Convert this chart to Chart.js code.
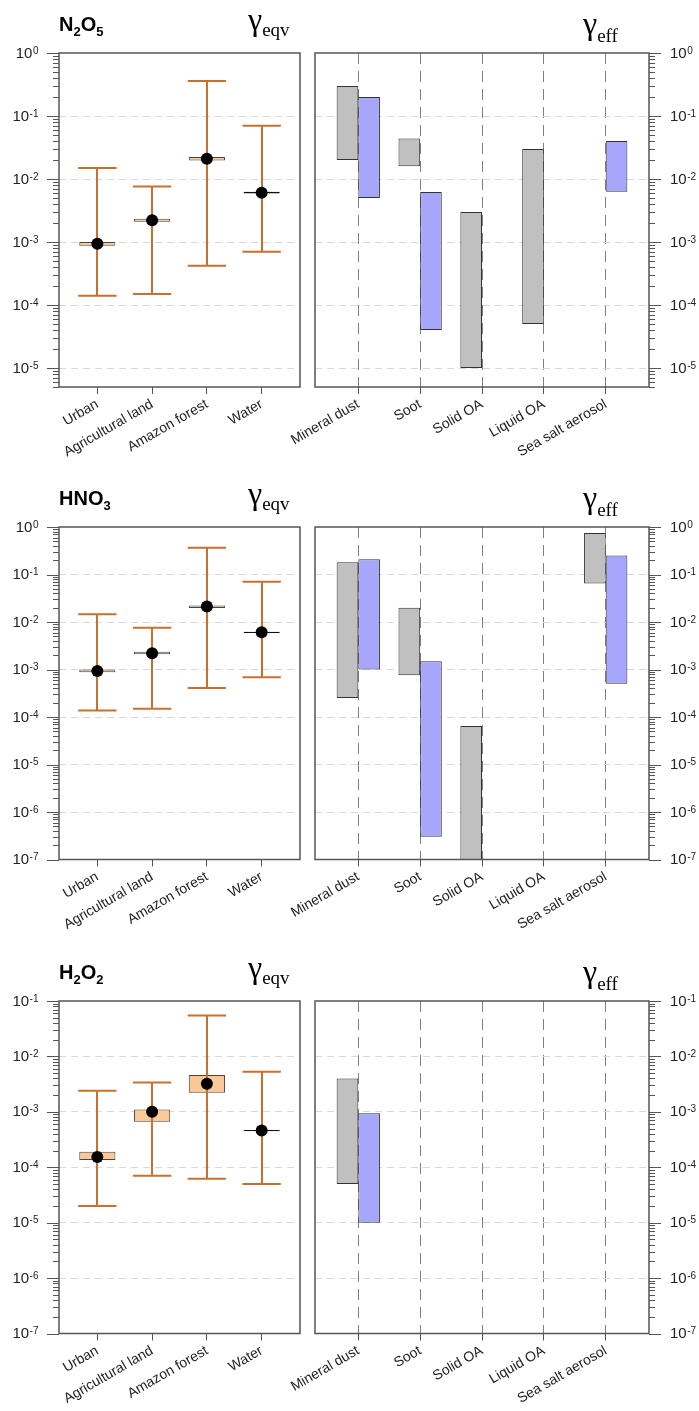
<!DOCTYPE html>
<html>
<head>
<meta charset="utf-8">
<script src="https://cdn.jsdelivr.net/npm/chart.js@4.4.1/dist/chart.umd.min.js"></script>
<style>
html, body { margin: 0; padding: 0; background: #fff; overflow: hidden; }
#wrap { position: relative; width: 699px; height: 1411px; }
canvas { position: absolute; }
</style>
</head>
<body>
<div id="wrap"></div>
<script>
// categories
const envCats = ['Urban', 'Agricultural land', 'Amazon forest', 'Water'];
const aerCats = ['Mineral dust', 'Soot', 'Solid OA', 'Liquid OA', 'Sea salt aerosol'];
const species = ['N2O5', 'HNO3', 'H2O2'];

// gamma_eqv, N2O5
const n2o5Low = [1.4e-4, 1.5e-4, 4.2e-4, 7e-4];
const n2o5High = [1.5e-2, 7.6e-3, 0.36, 0.07];
const n2o5Q1 = [8.7e-4, 2.1e-3, 0.0197, 5.9e-3];
const n2o5Q3 = [1.0e-3, 2.35e-3, 0.0223, 6.25e-3];
const n2o5Med = [9.4e-4, 2.22e-3, 0.021, 6.05e-3];
// gamma_eqv, HNO3
const hno3Low = [1.37e-4, 1.5e-4, 4.1e-4, 6.9e-4];
const hno3High = [1.45e-2, 7.6e-3, 0.365, 0.07];
const hno3Q1 = [8.7e-4, 2.1e-3, 0.0197, 5.9e-3];
const hno3Q3 = [1.0e-3, 2.35e-3, 0.0223, 6.25e-3];
const hno3Med = [9.3e-4, 2.2e-3, 0.0213, 6.1e-3];
// gamma_eqv, H2O2
const h2o2Low = [2e-5, 7e-5, 6.2e-5, 5e-5];
const h2o2High = [2.4e-3, 3.4e-3, 0.055, 5.3e-3];
const h2o2Q1 = [1.35e-4, 6.6e-4, 2.2e-3, 4.45e-4];
const h2o2Q3 = [1.9e-4, 1.1e-3, 4.6e-3, 4.7e-4];
const h2o2Med = [1.53e-4, 1.0e-3, 3.2e-3, 4.6e-4];

// gamma_eff ranges [low, high], grey and blue bars
const n2o5Grey = [[0.02, 0.3], [0.016, 0.044], [1e-5, 3e-3], [5e-5, 0.03], null];
const n2o5Blue = [[0.005, 0.2], [4e-5, 6.2e-3], null, null, [6.3e-3, 0.04]];
const hno3Grey = [[2.5e-4, 0.18], [7.6e-4, 0.02], [1e-8, 6.5e-5], null, [0.065, 0.75]];
const hno3Blue = [[1e-3, 0.21], [3e-7, 1.5e-3], null, null, [5e-4, 0.25]];
const h2o2Grey = [[5e-5, 4e-3], null, null, null, null];
const h2o2Blue = [[1e-5, 9.4e-4], null, null, null, null];

// axis ranges and tick labels (exponents of 10)
const axisMin = [5e-6, 1e-7, 1e-7];
const axisMax = [1, 1, 0.1];
const tickExps = [[0, -1, -2, -3, -4, -5], [0, -1, -2, -3, -4, -5, -6, -7], [-1, -2, -3, -4, -5, -6, -7]];

const eqvLow = [n2o5Low, hno3Low, h2o2Low];
const eqvHigh = [n2o5High, hno3High, h2o2High];
const eqvQ1 = [n2o5Q1, hno3Q1, h2o2Q1];
const eqvQ3 = [n2o5Q3, hno3Q3, h2o2Q3];
const eqvMed = [n2o5Med, hno3Med, h2o2Med];
const effGrey = [n2o5Grey, hno3Grey, h2o2Grey];
const effBlue = [n2o5Blue, hno3Blue, h2o2Blue];

const rowTop = [0, 474, 948];
const plotH = [334, 332.5, 332.5];
const canvasH = 463;
const SANS = '"Liberation Sans", Arial, sans-serif';
const SERIF = '"Liberation Serif", "Times New Roman", serif';

function addCanvas(left, top, w, h) {
    const c = document.createElement('canvas');
    c.width = w; c.height = h;
    c.style.cssText = `left:${left}px;top:${top}px;width:${w}px;height:${h}px`;
    document.getElementById('wrap').appendChild(c);
    return c;
}

function drawChem(ctx, text, x, y) {
    let cx = x;
    for (const ch of text) {
        const sub = /[0-9]/.test(ch);
        ctx.font = sub ? 'bold 13px ' + SANS : 'bold 20px ' + SANS;
        ctx.fillText(ch, cx, sub ? y + 5 : y);
        cx += ctx.measureText(ch).width;
    }
}

function drawGamma(ctx, sub, x, y, dy) {
    ctx.font = '32px ' + SERIF;
    ctx.fillText('\u03b3', x, y);
    const w = ctx.measureText('\u03b3').width;
    ctx.font = '19px ' + SERIF;
    ctx.fillText(sub, x + w, y + dy);
}

const decor = {
    id: 'decor',
    afterDatasetDraw(chart, args, o) {
        if (!o.whisk || args.meta.type !== 'bar') return;
        const { ctx, scales: { x, y } } = chart;
        const r = o.row;
        ctx.save();
        ctx.strokeStyle = '#c8712e';
        ctx.lineWidth = 2;
        eqvLow[r].forEach((lo, i) => {
            const hi = eqvHigh[r][i];
            const px = Math.round(x.getPixelForValue(i));
            const yl = y.getPixelForValue(lo), yh = y.getPixelForValue(hi);
            const xa = x.getPixelForValue(i - 0.35), xb = x.getPixelForValue(i + 0.35);
            ctx.beginPath();
            ctx.moveTo(px, yl); ctx.lineTo(px, yh);
            ctx.moveTo(xa, yl); ctx.lineTo(xb, yl);
            ctx.moveTo(xa, yh); ctx.lineTo(xb, yh);
            ctx.stroke();
        });
        ctx.restore();
    },
    afterDraw(chart, args, o) {
        const { ctx, chartArea: a, scales: { y } } = chart;
        const r = o.row;
        const left = o.side === 'left';
        ctx.save();
        // frame
        ctx.strokeStyle = '#555';
        ctx.lineWidth = 1.5;
        ctx.strokeRect(a.left, a.top, a.right - a.left, a.bottom - a.top);
        // log ticks
        ctx.lineWidth = 1;
        const x0 = left ? a.left : a.right;
        const dir = left ? -1 : 1;
        const e0 = Math.floor(Math.log10(y.min)), e1 = Math.ceil(Math.log10(y.max));
        ctx.beginPath();
        for (let e = e0; e <= e1; e++) {
            for (let k = 1; k <= 9; k++) {
                const v = k * Math.pow(10, e);
                if (v < y.min * 0.999 || v > y.max * 1.001) continue;
                const py = Math.round(y.getPixelForValue(v)) + 0.5;
                const len = k === 1 ? 12 : 6;
                ctx.moveTo(x0, py); ctx.lineTo(x0 + dir * len, py);
            }
        }
        ctx.stroke();
        // tick labels
        ctx.fillStyle = '#222';
        tickExps[r].forEach(e => {
            const py = y.getPixelForValue(Math.pow(10, e));
            const sup = String(e);
            ctx.font = '10px ' + SANS;
            const sw = ctx.measureText(sup).width;
            ctx.font = '15px ' + SANS;
            const bw = ctx.measureText('10').width;
            const bx = left ? a.left - 21 - sw - bw : a.right + 21;
            ctx.fillText('10', bx, py + 4.5);
            ctx.font = '10px ' + SANS;
            ctx.fillText(sup, bx + bw + 0.5, py + 0.5);
        });
        // titles
        ctx.fillStyle = '#000';
        if (left) {
            drawChem(ctx, species[r], a.left, a.top - 22);
            drawGamma(ctx, 'eqv', a.right - 52, a.top - 23, 6);
        } else {
            drawGamma(ctx, 'eff', a.right - 66, a.top - 19, 8);
        }
        ctx.restore();
    }
};

function yScale(r) {
    return {
        type: 'logarithmic',
        min: axisMin[r],
        max: axisMax[r],
        afterBuildTicks: s => { s.ticks = tickExps[r].map(e => ({ value: Math.pow(10, e), major: true })); },
        afterFit: s => { s.width = 0; },
        ticks: { display: false },
        border: { display: false, dash: [7, 5] },
        grid: {
            drawTicks: false,
            lineWidth: 1,
            color: c => (c.tick && (c.tick.value >= axisMax[r] * 0.999 || c.tick.value <= axisMin[r] * 1.001)) ? 'rgba(0,0,0,0)' : '#d9d9d9'
        }
    };
}

function xScale(cats, max, vertical, h) {
    return {
        type: 'linear',
        min: -0.7,
        max: max,
        offset: false,
        afterBuildTicks: s => { s.ticks = cats.map((c, i) => ({ value: i })); },
        afterFit: s => { s.height = h; },
        border: { display: false, dash: vertical ? [11, 7] : [] },
        grid: {
            offset: false,
            drawOnChartArea: vertical,
            drawTicks: true,
            tickLength: 7,
            tickColor: '#555',
            tickBorderDash: [],
            color: '#808080',
            lineWidth: 1
        },
        ticks: {
            autoSkip: false,
            minRotation: 30,
            maxRotation: 30,
            padding: 2,
            color: '#222',
            font: { family: SANS, size: 14 },
            callback: v => cats[v]
        }
    };
}

function envChart(r) {
    const canvas = addCanvas(0, rowTop[r], 320, canvasH);
    const hb = canvasH - 53 - plotH[r];
    const pad = { left: 59, right: 20, top: 53, bottom: 0 };
    const medData = envCats.map((c, i) => ({ x: i, y: eqvMed[r][i] }));
    const boxData = envCats.map((c, i) => ({ x: i, y: [eqvQ1[r][i], eqvQ3[r][i]] }));
    new Chart(canvas, {
        type: 'scatter',
        data: {
            datasets: [
                {
                    type: 'scatter',
                    data: medData,
                    pointRadius: 6,
                    pointBackgroundColor: '#000',
                    pointBorderColor: '#000',
                    pointBorderWidth: 0
                },
                {
                    type: 'bar',
                    data: boxData,
                    backgroundColor: ['#fbc896', '#fbc896', '#fbc896', '#111'],
                    borderColor: ['#444', '#444', '#444', '#111'],
                    borderWidth: 1,
                    borderSkipped: false,
                    categoryPercentage: 0.66,
                    barPercentage: 1
                }
            ]
        },
        options: {
            responsive: false,
            devicePixelRatio: 1,
            animation: false,
            layout: { padding: pad },
            scales: { x: xScale(envCats, 3.7, false, hb), y: yScale(r) },
            plugins: {
                legend: { display: false },
                tooltip: { enabled: false },
                decor: { row: r, side: 'left', whisk: true }
            }
        },
        plugins: [decor]
    });
}

function aerChart(r) {
    const canvas = addCanvas(250, rowTop[r], 449, canvasH);
    const hb = canvasH - 53 - plotH[r];
    const pad = { left: 65, right: 50, top: 53, bottom: 0 };
    new Chart(canvas, {
        type: 'bar',
        data: {
            datasets: [
                {
                    data: aerCats.map((c, i) => ({ x: i, y: effGrey[r][i] })),
                    backgroundColor: '#c0c0c0',
                    borderColor: '#333',
                    borderWidth: 1,
                    borderSkipped: false,
                    categoryPercentage: 0.7,
                    barPercentage: 1
                },
                {
                    data: aerCats.map((c, i) => ({ x: i, y: effBlue[r][i] })),
                    backgroundColor: '#a6a6fd',
                    borderColor: '#333',
                    borderWidth: 1,
                    borderSkipped: false,
                    categoryPercentage: 0.7,
                    barPercentage: 1
                }
            ]
        },
        options: {
            responsive: false,
            devicePixelRatio: 1,
            animation: false,
            layout: { padding: pad },
            scales: { x: xScale(aerCats, 4.7, true, hb), y: yScale(r) },
            plugins: {
                legend: { display: false },
                tooltip: { enabled: false },
                decor: { row: r, side: 'right', whisk: false }
            }
        },
        plugins: [decor]
    });
}

for (let r = 0; r < 3; r++) {
    envChart(r);
    aerChart(r);
}
</script>
</body>
</html>
